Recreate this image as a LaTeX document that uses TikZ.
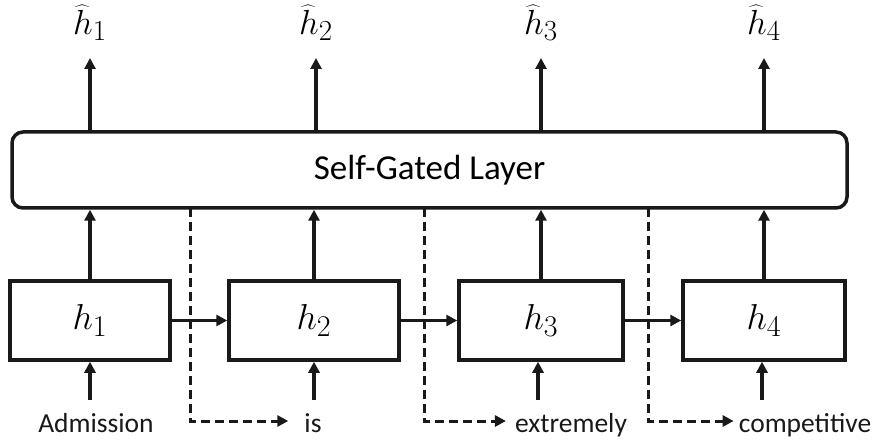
\documentclass[tikz,border=0pt]{standalone}
\usepackage[no-math]{fontspec}
\usepackage{graphicx}
\setmainfont{Carlito}
\usetikzlibrary{arrows.meta,calc}
\newcommand{\bigmath}[1]{{\fontsize{24.88}{30}\selectfont\scalebox{1.45}{$#1$}}}
\newcommand{\topmath}[1]{{\fontsize{24.88}{30}\selectfont\scalebox{1.4}{$#1$}}}
\begin{document}
\begin{tikzpicture}[x=1pt,y=-1pt,
  ln/.style={line width=3.5pt,draw=black!90},
  arr/.style={ln,-{Triangle[length=11pt,width=11pt]}},
  darr/.style={line width=3pt,draw=black!90,dash pattern=on 9pt off 5pt,-{Triangle[length=11pt,width=11pt]}},
  cell/.style={ln,rectangle,minimum height=79pt,inner sep=0pt},
  layerbox/.style={ln,rectangle,rounded corners=11pt,minimum width=835pt,minimum height=76pt,inner sep=0pt,font=\fontsize{35}{40}\selectfont},
  outlbl/.style={anchor=south,inner sep=0pt},
  word/.style={anchor=base,inner sep=0pt,font=\fontsize{27.5}{32}\selectfont,text=black!90}
]
\useasboundingbox (0,0) rectangle (877,443);

\node[layerbox] (layer) at (429.5,170) {Self-Gated Layer};

\node[cell,minimum width=160pt] (b1) at (90,320.5) {\bigmath{h_1}};
\node[cell,minimum width=170pt] (b2) at (314,320.5) {\bigmath{h_2}};
\node[cell,minimum width=164pt] (b3) at (541,320.5) {\bigmath{h_3}};
\node[cell,minimum width=162pt] (b4) at (764,320.5) {\bigmath{h_4}};

\node[outlbl] (t1) at (90,41) {\topmath{\widehat{h}_1}};
\node[outlbl] (t2) at (316,41) {\topmath{\widehat{h}_2}};
\node[outlbl] (t3) at (541,41) {\topmath{\widehat{h}_3}};
\node[outlbl] (t4) at (764,41) {\topmath{\widehat{h}_4}};

\node[word] (w1) at (96,432) {Admission};
\node[word] (w2) at (313,432) {is};
\node[word] (w3) at (571,432) {extremely};
\node[word] (w4) at (805,432) {competitive};

\coordinate (in1) at (90,400);
\coordinate (in2) at (314,400);
\coordinate (in3) at (538,400);
\coordinate (in4) at (762,400);

\coordinate (d1) at (190,208);
\coordinate (d2) at (424,208);
\coordinate (d3) at (648,208);

% outputs
\foreach \i in {1,...,4}{
  \draw[arr] (layer.north -| t\i.south) -- ([yshift=-17pt]t\i.south);
}
% cells to layer
\foreach \i in {1,...,4}{
  \draw[arr] (b\i.north) -- (b\i.north |- layer.south);
}
% inputs
\foreach \i in {1,...,4}{
  \draw[arr] (in\i) -- (in\i |- b\i.south);
}
% recurrent
\draw[arr] (b1.east) -- (b2.west);
\draw[arr] (b2.east) -- (b3.west);
\draw[arr] (b3.east) -- (b4.west);

% dashed
\draw[darr] (d1) |- ([xshift=-16pt,yshift=11pt]w2.base west);
\draw[darr] (d2) |- ([xshift=-9pt,yshift=11pt]w3.base west);
\draw[darr] (d3) |- ([xshift=-5pt,yshift=11pt]w4.base west);
\end{tikzpicture}
\end{document}
